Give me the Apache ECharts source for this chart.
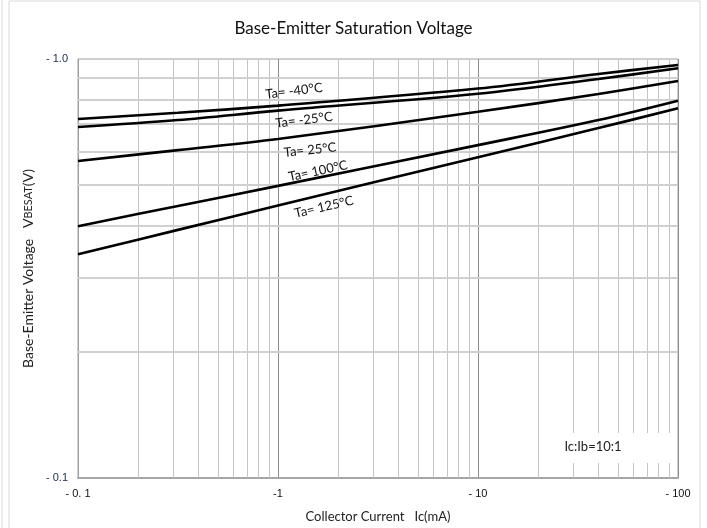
<!DOCTYPE html>
<html>
<head>
<meta charset="utf-8">
<script src="https://cdn.jsdelivr.net/npm/echarts@6/dist/echarts.min.js"></script>
<style>html,body{margin:0;padding:0;background:#fff}#c{width:707px;height:528px}</style>
</head>
<body>
<div id="c"></div>
<script>
// Collector current Ic (mA)
const currents = [0.1, 0.316, 1, 10, 40, 100];
// VBE(sat) (V) per ambient temperature
const vM40 = [0.719, 0.744, 0.774, 0.850, 0.921, 0.968];
const vM25 = [0.688, 0.715, 0.753, 0.826, 0.896, 0.950];
const v25  = [0.571, 0.606, 0.644, 0.748, 0.825, 0.886];
const v100 = [0.399, 0.446, 0.498, 0.623, 0.715, 0.795];
const v125 = [0.342, 0.391, 0.447, 0.583, 0.684, 0.763];
const seriesNames = ['Ta= -40°C', 'Ta= -25°C', 'Ta= 25°C', 'Ta= 100°C', 'Ta= 125°C'];
// tick labels
const xTickLabels = ['- 0. 1', '-1', '- 10', '- 100'];
const yTickLabels = ['- 0.1', '- 1.0'];
// minor grid values
const xMinor = [0.2,0.3,0.4,0.5,0.6,0.7,0.8,0.9, 2,3,4,5,6,7,8,9, 20,30,40,50,60,70,80,90];
const yMinor = [0.2,0.3,0.4,0.5,0.6,0.7,0.8,0.9];

const font = 'Lato, "Open Sans", sans-serif';
const chart = echarts.init(document.getElementById('c'));
const allV = [vM40, vM25, v25, v100, v125];
const series = allV.map((v, i) => ({
  name: seriesNames[i],
  type: 'line',
  smooth: 0.35,
  showSymbol: false,
  silent: true,
  z: 5,
  lineStyle: { color: '#000', width: 2.6 },
  data: currents.map((c, j) => [c, v[j]])
}));
series.push({
  type: 'line', data: [], silent: true, z: 1,
  markLine: {
    silent: true, symbol: 'none', label: { show: false },
    data: [
      ...xMinor.map(x => ({ xAxis: x, lineStyle: { color: '#c4c4c4', width: 1, type: 'solid' } })),
      ...yMinor.map(y => ({ yAxis: y, lineStyle: { color: '#d0d0d0', width: 2, type: 'solid' } }))
    ]
  }
});

const labelPos = [
  { x: 294, y: 91, r: 7 },
  { x: 304, y: 120, r: 7 },
  { x: 310, y: 150, r: 6 },
  { x: 318, y: 171, r: 12 },
  { x: 324, y: 207, r: 13 }
];

chart.setOption({
  animation: false,
  backgroundColor: '#fff',
  title: {
    text: 'Base-Emitter Saturation Voltage',
    left: 'center', top: 15,
    textStyle: { fontFamily: font, fontSize: 17, fontWeight: 'normal', color: '#111' }
  },
  grid: { left: 78, right: 29, top: 59, bottom: 50, show: true, borderColor: '#a0a0a0', borderWidth: 1, outerBoundsMode: 'none', containLabel: false },
  xAxis: {
    type: 'log', logBase: 10, min: 0.1, max: 100,
    name: 'Collector Current   Ic(mA)', nameLocation: 'middle', nameGap: 32,
    nameTextStyle: { fontFamily: font, fontSize: 13, color: '#222' },
    axisLine: { show: true, lineStyle: { color: '#a6a6a6', width: 2 } },
    axisTick: { show: false },
    axisLabel: {
      margin: 10, fontFamily: '"Liberation Sans", Arial, sans-serif', fontSize: 11, color: '#111',
      formatter: v => xTickLabels[Math.round(Math.log10(v)) + 1]
    },
    splitLine: { show: true, lineStyle: { color: '#8c8c8c', width: 1 } },
    minorTick: { show: false }, minorSplitLine: { show: false }
  },
  yAxis: {
    type: 'log', logBase: 10, min: 0.1, max: 1,
    name: 'Base-Emitter Voltage   V{s|BESAT}(V)', nameLocation: 'middle', nameGap: 38,
    nameTextStyle: { fontFamily: font, fontSize: 14, color: '#222', rich: { s: { fontFamily: font, fontSize: 11, color: '#222' } } },
    axisLine: { show: true, lineStyle: { color: '#a0a0a0', width: 1 } },
    axisTick: { show: false },
    axisLabel: {
      margin: 10, fontFamily: '"Liberation Sans", Arial, sans-serif', fontSize: 11, color: '#1a2a4a',
      formatter: v => yTickLabels[Math.round(Math.log10(v)) + 1]
    },
    splitLine: { show: false }
  },
  series: series,
  graphic: [
    { type: 'rect', z: 0, silent: true, shape: { x: 9, y: 1, width: 691, height: 540 }, style: { fill: 'none', stroke: '#d9d9d9', lineWidth: 1 } },
    { type: 'line', z: 0, silent: true, shape: { x1: 2, y1: 0, x2: 2, y2: 528 }, style: { stroke: '#d9d9d9', lineWidth: 1 } },
    { type: 'rect', z: 100, silent: true, shape: { x: 550, y: 433, width: 126, height: 30 }, style: { fill: '#fff' } },
    { type: 'text', z: 101, silent: true, x: 593, y: 447, style: { text: 'Ic:Ib=10:1', fontFamily: font, fontSize: 13, fill: '#222', align: 'center', verticalAlign: 'middle' } },
    ...seriesNames.map((n, i) => ({
      type: 'text', z: 101, silent: true, x: labelPos[i].x, y: labelPos[i].y,
      rotation: labelPos[i].r * Math.PI / 180,
      style: { text: n, fontFamily: font, fontSize: 13, fill: '#111', align: 'center', verticalAlign: 'middle' }
    }))
  ]
});
</script>
</body>
</html>
